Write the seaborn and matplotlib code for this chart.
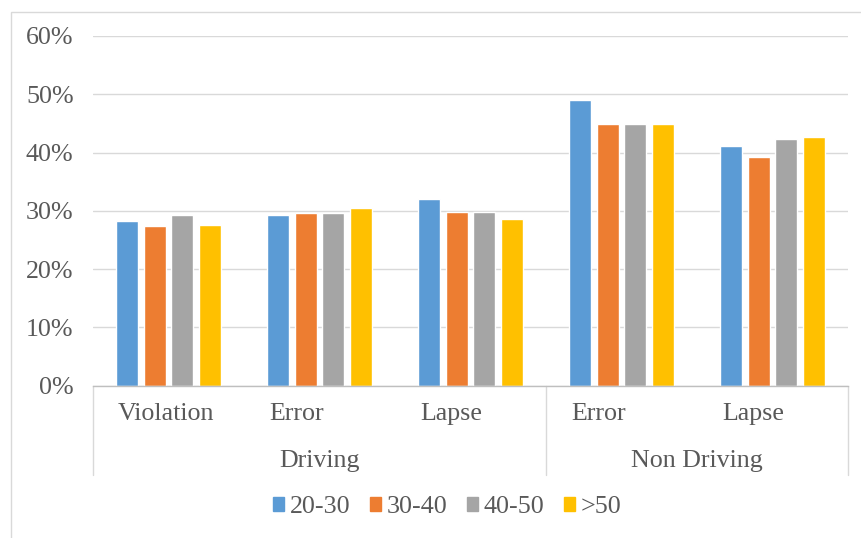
import matplotlib
matplotlib.use("Agg")
import matplotlib.pyplot as plt
import matplotlib.transforms as mtransforms
from matplotlib.patches import Rectangle
from matplotlib.ticker import PercentFormatter
import seaborn as sns
import pandas as pd

# DATA
groups = ["Driving", "Driving", "Driving", "Non Driving", "Non Driving"]
items = ["Violation", "Error", "Lapse", "Error", "Lapse"]
ages = ["20-30", "30-40", "40-50", ">50"]
age_20_30 = [0.283, 0.293, 0.321, 0.490, 0.411]
age_30_40 = [0.274, 0.296, 0.298, 0.449, 0.392]
age_40_50 = [0.293, 0.296, 0.298, 0.449, 0.423]
age_50_up = [0.276, 0.305, 0.286, 0.449, 0.426]
colors = ["#5B9BD5", "#ED7D31", "#A5A5A5", "#FFC000"]

keys = [g + "|" + i for g, i in zip(groups, items)]
rows = []
for age, vals in zip(ages, [age_20_30, age_30_40, age_40_50, age_50_up]):
    for k, v in zip(keys, vals):
        rows.append({"item": k, "age": age, "value": v})
df = pd.DataFrame(rows)

sns.set_style("white")
plt.rcParams["font.family"] = ["Liberation Serif", "DejaVu Serif"]
txt = "#595959"
fs = 18.7

fig = plt.figure(figsize=(8.62, 5.38), dpi=100)
ax = fig.add_axes([93 / 862, 1 - 385.7 / 538, (848 - 93) / 862, (385.7 - 36) / 538])

sns.barplot(data=df, x="item", y="value", hue="age", order=keys, hue_order=ages,
            palette=colors, width=0.733, gap=0.2, saturation=1, ax=ax, legend=False)

ax.set_xlim(-0.5, 4.5)
ax.set_ylim(0, 0.6)
ax.set_yticks([0, 0.1, 0.2, 0.3, 0.4, 0.5, 0.6])
ax.yaxis.set_major_formatter(PercentFormatter(1.0, decimals=0))
ax.yaxis.grid(True, color="#d9d9d9", lw=1)
ax.set_axisbelow(True)
for s in ["top", "right", "left"]:
    ax.spines[s].set_visible(False)
ax.spines["bottom"].set_color("#bfbfbf")
ax.spines["bottom"].set_linewidth(1)
ax.set_xlabel("")
ax.set_ylabel("")
ax.set_xticks([])
ax.tick_params(axis="y", length=0, pad=14, labelsize=fs, labelcolor=txt)

# category labels (left-justified like the original), group separators and labels
trans = mtransforms.blended_transform_factory(ax.transData, ax.transAxes)
for i, lab in enumerate(items):
    ax.text(i - 0.335, -0.082, lab, transform=trans, ha="left", va="center",
            fontsize=fs, color=txt)
for xv in [-0.5, 2.5, 4.5]:
    ax.plot([xv, xv], [0, -0.254], transform=trans, color="#d9d9d9", lw=1, clip_on=False)
ax.text(1, -0.215, "Driving", transform=trans, ha="center", va="center", fontsize=fs, color=txt)
ax.text(3.5, -0.215, "Non Driving", transform=trans, ha="center", va="center", fontsize=fs, color=txt)

# legend
handles = [Rectangle((0, 0), 1, 1, color=c) for c in colors]
fig.legend(handles, ages, loc="center", bbox_to_anchor=(447 / 862, 1 - 507 / 538), ncol=4,
           frameon=False, fontsize=fs, labelcolor=txt, handlelength=0.45, handleheight=0.45,
           handletextpad=0.2, columnspacing=0.75)

# chart frame
fig.patches.append(Rectangle((11 / 862, -0.1), 1.2, 1.1 - 12 / 538, transform=fig.transFigure,
                             fill=False, edgecolor="#d9d9d9", lw=1))

fig.savefig("out.png", dpi=100)
